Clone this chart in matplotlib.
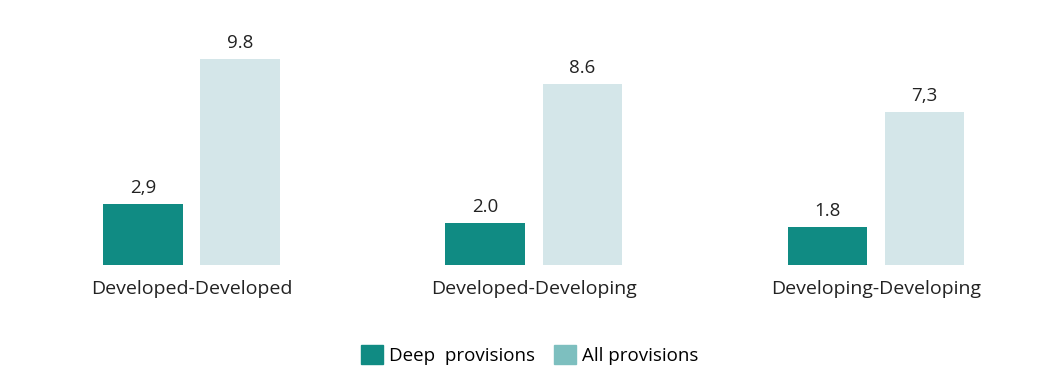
import matplotlib.pyplot as plt
from matplotlib.patches import Patch
import numpy as np

categories = ['Developed-Developed', 'Developed-Developing', 'Developing-Developing']
deep = [2.9, 2.0, 1.8]
all_prov = [9.8, 8.6, 7.3]
value_labels_deep = ['2,9', '2.0', '1.8']
value_labels_all = ['9.8', '8.6', '7,3']

deep_color = '#108b83'
all_color = '#d4e6e9'
all_legend_color = '#7dbfbf'

plt.rcParams['font.family'] = ['Open Sans', 'DejaVu Sans']

fig = plt.figure(figsize=(10.6, 3.83), dpi=100)
# baseline sits 265 px from the top of the picture
ax = fig.add_axes([0, 0.308, 1, 0.692])

x = np.arange(len(categories))
w = 0.232
off = 0.142
b1 = ax.bar(x - off, deep, width=w, color=deep_color)
b2 = ax.bar(x + off, all_prov, width=w, color=all_color)

for bars, labs in ((b1, value_labels_deep), (b2, value_labels_all)):
    for b, lab in zip(bars, labs):
        ax.annotate(lab, (b.get_x() + b.get_width() / 2, b.get_height()),
                    xytext=(0, 5), textcoords='offset points',
                    ha='center', va='bottom', fontsize=13.5, color='#222222')

for xi, cat in zip(x, categories):
    ax.annotate(cat, (xi, 0), xytext=(0, -11), textcoords='offset points',
                ha='center', va='top', fontsize=14, color='#222222')

ax.set_xlim(-191.5 / 342.25, (1060 - 191.5) / 342.25)
ax.set_ylim(0, 265 / 21)
ax.axis('off')

handles = [Patch(color=deep_color, label='Deep  provisions'),
           Patch(color=all_legend_color, label='All provisions')]
fig.legend(handles=handles, loc='center', bbox_to_anchor=(0.5, 0.073), ncol=2,
           frameon=False, fontsize=13.5, handlelength=1.15, handleheight=1.15,
           handletextpad=0.35, columnspacing=1.0)

fig.savefig('out.png', dpi=100)
